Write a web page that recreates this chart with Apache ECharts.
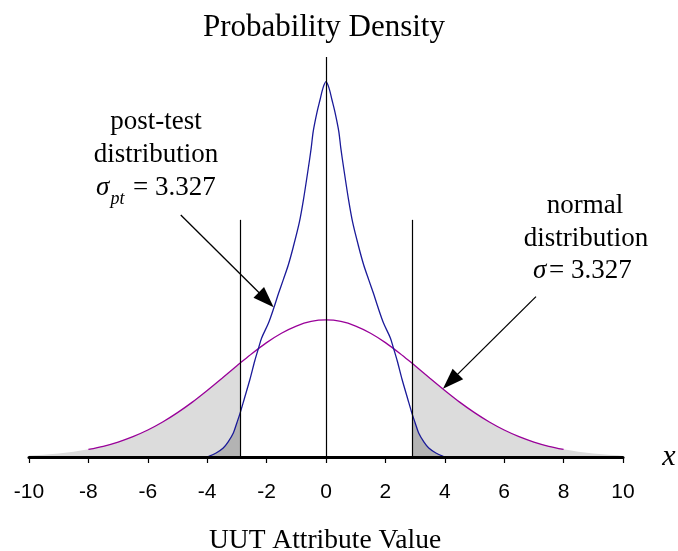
<!DOCTYPE html>
<html>
<head>
<meta charset="utf-8">
<script src="https://cdn.jsdelivr.net/npm/echarts@6/dist/echarts.min.js"></script>
<style>
  html, body { margin: 0; padding: 0; background: #fff; }
  #chart { width: 678px; height: 551px; }
</style>
</head>
<body>
<div id="chart"></div>
<script>
// Normal density curve (sigma = 3.327)
const normalX = [-10, -9.5, -9, -8.5, -8, -7.5, -7, -6.5, -6, -5.5, -5, -4.5, -4, -3.5, -3, -2.9, -2.5, -2, -1.5, -1, -0.5,
  0, 0.5, 1, 1.5, 2, 2.5, 2.9, 3, 3.5, 4, 4.5, 5, 5.5, 6, 6.5, 7, 7.5, 8, 8.5, 9, 9.5, 10];
const normalY = [0.0013, 0.0020, 0.0031, 0.0046, 0.0067, 0.0094, 0.0131, 0.0178, 0.0236, 0.0306, 0.0388, 0.0480, 0.0582, 0.0689, 0.0799, 0.0820, 0.0904, 0.1001, 0.1083, 0.1146, 0.1186,
  0.1199, 0.1186, 0.1146, 0.1083, 0.1001, 0.0904, 0.0820, 0.0799, 0.0689, 0.0582, 0.0480, 0.0388, 0.0306, 0.0236, 0.0178, 0.0131, 0.0094, 0.0067, 0.0046, 0.0031, 0.0020, 0.0013];

// Post-test density curve
const postX = [-3.95, -3.7, -3.46, -3.3, -3.12, -3, -2.9, -2.75, -2.56, -2.4, -2.26, -2.17, -1.94, -1.75, -1.6, -1.44, -1.27, -1.1, -0.9, -0.76, -0.6, -0.5, -0.43, -0.3, -0.2, -0.1,
  0, 0.1, 0.2, 0.3, 0.43, 0.5, 0.6, 0.76, 0.9, 1.1, 1.27, 1.44, 1.6, 1.75, 1.94, 2.17, 2.26, 2.4, 2.56, 2.75, 2.9, 3, 3.12, 3.3, 3.46, 3.7, 3.95];
const postY = [0.0005, 0.0035, 0.0079, 0.013, 0.021, 0.030, 0.0377, 0.051, 0.068, 0.084, 0.0963, 0.104, 0.117, 0.131, 0.143, 0.155, 0.168, 0.184, 0.205, 0.225, 0.252, 0.270, 0.2850, 0.302, 0.3126, 0.323,
  0.3284, 0.323, 0.3126, 0.302, 0.2850, 0.270, 0.252, 0.225, 0.205, 0.184, 0.168, 0.155, 0.143, 0.131, 0.117, 0.104, 0.0963, 0.084, 0.068, 0.051, 0.0377, 0.030, 0.021, 0.013, 0.0079, 0.0035, 0.0005];

// Test limits and axis range
const limitX = 2.9;
const limitTop = 0.2075;
const centerTop = 0.35;
const xTicks = { min: -10, max: 10, step: 2 };

const pairs = (xs, ys) => xs.map((x, i) => [x, ys[i]]);
const normalPts = pairs(normalX, normalY);
const postPts = pairs(postX, postY);

const leftTail = pts => pts.filter(p => p[0] <= -limitX);
const rightTail = pts => pts.filter(p => p[0] >= limitX);

const serif = '"Liberation Serif", "Times New Roman", serif';
const sans = '"Liberation Sans", Arial, sans-serif';

function fill(data, color) {
  return {
    type: 'line', data, symbol: 'none', silent: true,
    lineStyle: { width: 0 }, areaStyle: { color, opacity: 1 }
  };
}

const chart = echarts.init(document.getElementById('chart'), null, { renderer: 'canvas' });

const vline = (x, top) => [{ coord: [x, 0] }, { coord: [x, top] }];

chart.setOption({
  animation: false,
  backgroundColor: '#ffffff',
  grid: { left: 29, right: 55, top: 57, bottom: 94 },
  xAxis: {
    type: 'value', min: xTicks.min, max: xTicks.max, interval: xTicks.step, z: 20,
    axisLine: { lineStyle: { color: '#000', width: 3 } },
    axisTick: { length: 6, lineStyle: { color: '#000', width: 1.2 } },
    axisLabel: { color: '#000', fontFamily: sans, fontSize: 21, margin: 25 },
    splitLine: { show: false }
  },
  yAxis: { type: 'value', min: 0, max: centerTop, show: false },
  series: [
    fill(leftTail(normalPts), '#dcdcdc'),
    fill(rightTail(normalPts), '#dcdcdc'),
    fill(leftTail(postPts), '#b3b3b3'),
    fill(rightTail(postPts), '#b3b3b3'),
    {
      type: 'line', data: normalPts.filter(p => Math.abs(p[0]) <= 8), symbol: 'none', smooth: 0.3,
      lineStyle: { color: '#990099', width: 1.3 }
    },
    {
      type: 'line', data: postPts, symbol: 'none', smooth: 0.3,
      lineStyle: { color: '#1a1a99', width: 1.3 },
      markLine: {
        silent: true, symbol: 'none', label: { show: false },
        lineStyle: { color: '#000', width: 1.2, type: 'solid' },
        data: [vline(-limitX, limitTop), vline(limitX, limitTop), vline(0, centerTop)]
      }
    },
    {
      // callout arrows
      type: 'line', data: [], symbol: 'none',
      markLine: {
        silent: true, symbol: ['none', 'triangle'], symbolSize: [15, 21],
        label: { show: false },
        lineStyle: { color: '#000', width: 1.3, type: 'solid' },
        itemStyle: { color: '#000' },
        data: [
          [{ coord: [-4.89, 0.2117] }, { coord: [-2.013, 0.1376] }],
          [{ coord: [7.07, 0.1403] }, { coord: [4.19, 0.0662] }]
        ]
      }
    }
  ],
  graphic: [
    { type: 'text', style: { text: 'Probability Density', x: 324, y: 28, align: 'center', verticalAlign: 'middle', fontFamily: serif, fontSize: 31, fill: '#000' } },
    { type: 'text', style: { text: 'UUT Attribute Value', x: 325, y: 541, align: 'center', verticalAlign: 'middle', fontFamily: serif, fontSize: 27.5, fill: '#000' } },
    { type: 'text', style: { text: 'x', x: 669, y: 457, align: 'center', verticalAlign: 'middle', fontFamily: serif, fontStyle: 'italic', fontSize: 30, fill: '#000' } },

    { type: 'text', style: { text: 'post-test', x: 156, y: 122, align: 'center', verticalAlign: 'middle', fontFamily: serif, fontSize: 27, fill: '#000' } },
    { type: 'text', style: { text: 'distribution', x: 156, y: 155, align: 'center', verticalAlign: 'middle', fontFamily: serif, fontSize: 27, fill: '#000' } },
    { type: 'text', style: { text: 'σ', x: 96, y: 188, align: 'left', verticalAlign: 'middle', fontFamily: serif, fontStyle: 'italic', fontSize: 27, fill: '#000' } },
    { type: 'text', style: { text: 'pt', x: 110.5, y: 199, align: 'left', verticalAlign: 'middle', fontFamily: serif, fontStyle: 'italic', fontSize: 18, fill: '#000' } },
    { type: 'text', style: { text: '= 3.327', x: 133, y: 188, align: 'left', verticalAlign: 'middle', fontFamily: serif, fontSize: 27, fill: '#000' } },

    { type: 'text', style: { text: 'normal', x: 585, y: 206, align: 'center', verticalAlign: 'middle', fontFamily: serif, fontSize: 27, fill: '#000' } },
    { type: 'text', style: { text: 'distribution', x: 586, y: 239, align: 'center', verticalAlign: 'middle', fontFamily: serif, fontSize: 27, fill: '#000' } },
    { type: 'text', style: { text: 'σ', x: 533, y: 271, align: 'left', verticalAlign: 'middle', fontFamily: serif, fontStyle: 'italic', fontSize: 27, fill: '#000' } },
    { type: 'text', style: { text: '= 3.327', x: 549, y: 271, align: 'left', verticalAlign: 'middle', fontFamily: serif, fontSize: 27, fill: '#000' } }
  ]
});
</script>
</body>
</html>
